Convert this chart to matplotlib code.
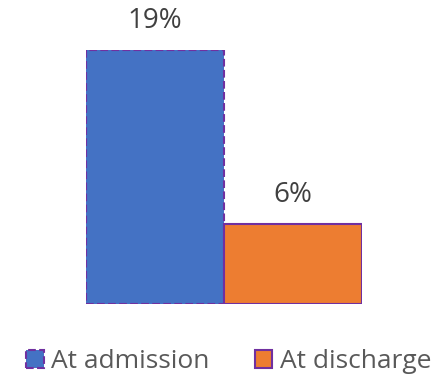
import matplotlib
matplotlib.use("Agg")
import matplotlib.pyplot as plt
from matplotlib.patches import Patch

categories = ["At admission", "At discharge"]
values = [19, 6]
labels = ["19%", "6%"]
colors = ["#4472C4", "#ED7D31"]
linestyles = ["--", "-"]

plt.rcParams["font.family"] = ["Open Sans", "DejaVu Sans"]

fig = plt.figure(figsize=(4.4, 3.75), dpi=100)
ax = fig.add_axes([86 / 440, 71 / 375, 276 / 440, 254 / 375])

x = [0, 1]
bars = ax.bar(x, values, width=1.0, color=colors, edgecolor="#7030A0", linewidth=1.5)
for b, ls in zip(bars, linestyles):
    b.set_linestyle(ls)

for xi, v, lab in zip(x, values, labels):
    ax.annotate(lab, (xi, v), xytext=(0, 11), textcoords="offset points",
                ha="center", va="bottom", fontsize=20, color="#404040",
                annotation_clip=False)

ax.set_xlim(-0.5, 1.5)
ax.set_ylim(0, 19)
ax.axis("off")

handles = [Patch(facecolor=c, edgecolor="#7030A0", linestyle=ls, linewidth=1.5)
           for c, ls in zip(colors, linestyles)]
fig.legend(handles, categories, loc="center", bbox_to_anchor=(0.52, 13 / 375),
           ncol=2, frameon=False, fontsize=19, labelcolor="#595959",
           handlelength=0.65, handleheight=0.65, handletextpad=0.3, columnspacing=1.7)

fig.savefig("out.png", dpi=100)
